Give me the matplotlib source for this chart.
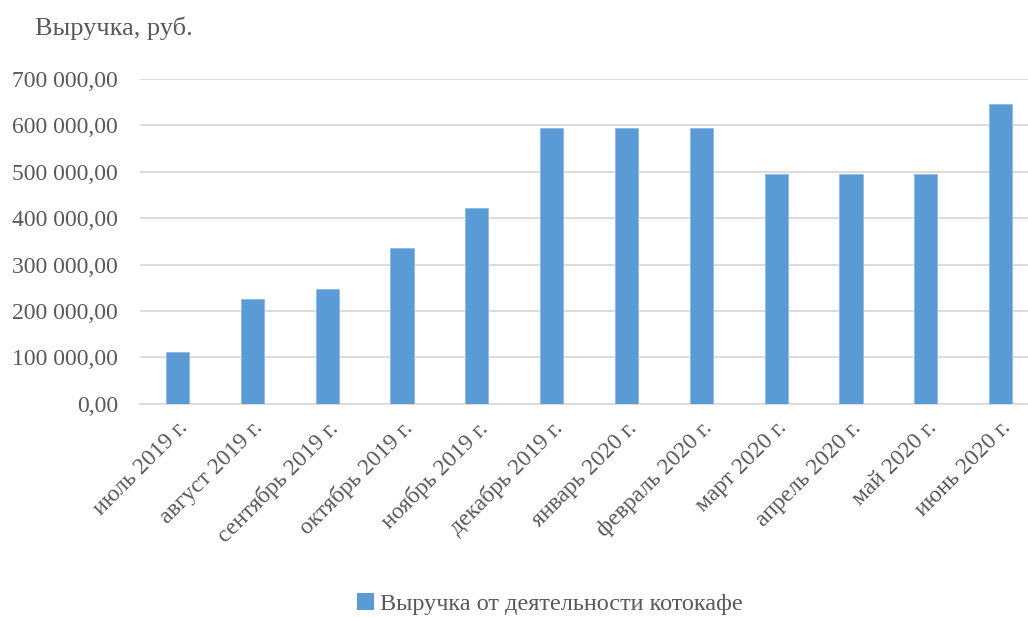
import matplotlib
matplotlib.use("Agg")
import matplotlib.pyplot as plt
from matplotlib.patches import Patch
from matplotlib.ticker import FuncFormatter

months = ["июль 2019 г.", "август 2019 г.", "сентябрь 2019 г.", "октябрь 2019 г.",
          "ноябрь 2019 г.", "декабрь 2019 г.", "январь 2020 г.", "февраль 2020 г.",
          "март 2020 г.", "апрель 2020 г.", "май 2020 г.", "июнь 2020 г."]
revenue = [112000, 225000, 247000, 335000, 422000, 595000,
           595000, 595000, 496000, 496000, 496000, 646000]
y_ticks = [0, 100000, 200000, 300000, 400000, 500000, 600000, 700000]

series_name = "Выручка от деятельности котокафе"
axis_title = "Выручка, руб."

text_color = "#595959"
bar_color = "#5b9bd5"
grid_color = "#d9d9d9"

plt.rcParams["font.family"] = ["Liberation Serif", "DejaVu Serif"]

fig = plt.figure(figsize=(10.28, 6.17), dpi=100)
ax = fig.add_axes([0.1362, 0.3457, 1.0098 - 0.1362, 0.872 - 0.3457])

x = list(range(len(months)))
ax.bar(x, revenue, width=0.31, color=bar_color, edgecolor="#8cb9e3",
       linewidth=0.6, zorder=3)

ax.set_xlim(-0.5, len(months) - 0.5)
ax.set_ylim(0, 700000)
ax.set_yticks(y_ticks)


def rub(v, pos):
    s = f"{v:,.2f}".replace(",", " ").replace(".", ",")
    return s


ax.yaxis.set_major_formatter(FuncFormatter(rub))
ax.grid(axis="y", color=grid_color, linewidth=1.3, zorder=0)
for side in ("top", "right", "left"):
    ax.spines[side].set_visible(False)
ax.spines["bottom"].set_color(grid_color)
ax.spines["bottom"].set_linewidth(1.3)

ax.tick_params(axis="y", length=0, pad=16, labelsize=17, labelcolor=text_color)
ax.tick_params(axis="x", length=0, pad=10, labelsize=17, labelcolor=text_color)
ax.set_xticks(x)
ax.set_xticklabels(months, rotation=45, ha="right", rotation_mode="anchor")

fig.text(35 / 1028, 1 - 28 / 617, axis_title, fontsize=19, color=text_color,
         ha="left", va="center")

handle = Patch(facecolor=bar_color, edgecolor="none")
fig.legend([handle], [series_name], loc="center", bbox_to_anchor=(0.535, 0.021),
           frameon=False, fontsize=17.5, handlelength=0.7, handleheight=0.7,
           handletextpad=0.25, labelcolor=text_color)

fig.savefig("out.png", dpi=100)
